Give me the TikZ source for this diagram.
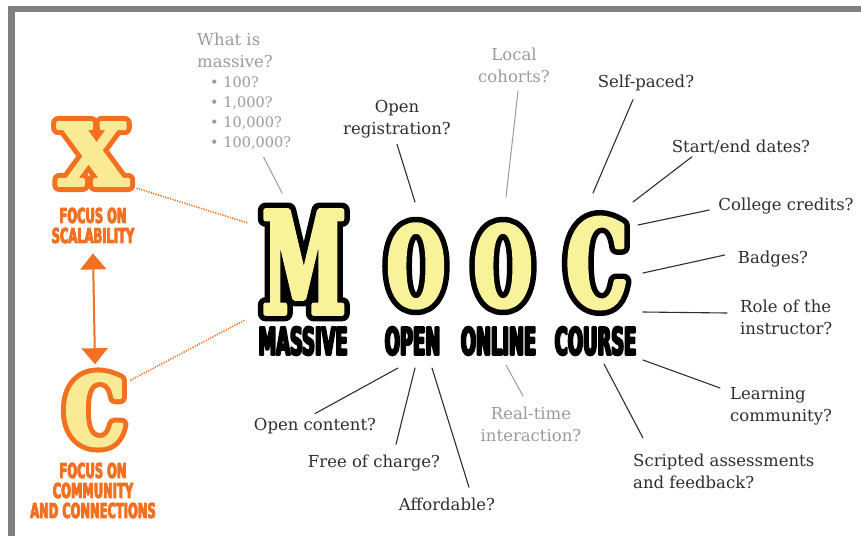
\documentclass[tikz,border=0pt]{standalone}
\usepackage{fontspec}
\setmainfont{DejaVu Serif}
\newfontfamily\heavyfont{DejaVu Sans}
\newfontfamily\letterfont{DejaVu Serif}
\usetikzlibrary{arrows.meta}
\definecolor{ink}{HTML}{2E2E2E}
\definecolor{fog}{HTML}{9B9B9B}
\definecolor{flame}{HTML}{F37021}
\definecolor{lemon}{HTML}{F8F39B}
\definecolor{pale}{HTML}{FBEA95}
\definecolor{frame}{HTML}{808080}
% glyphs filled and stroked with a pen of width #1
\newcommand\inked[2]{\special{pdf:literal direct 2 Tr #1 w}#2\special{pdf:literal direct 0 Tr}}
\begin{document}
\begin{tikzpicture}[x=1pt, y=-1pt, line cap=round, line join=round,
  q/.style={font=\fontsize{16.5}{22}\selectfont, text=ink, inner sep=1pt},
  qg/.style={q, text=fog},
  lnk/.style={draw=ink, line width=1.1pt},
  lnkg/.style={draw=fog, line width=1pt},
  big/.style 2 args={font=\letterfont\bfseries\addfontfeatures{FakeStretch=#2}\fontsize{#1}{#1}\selectfont,
    inner sep=0pt},
  tag/.style={font=\heavyfont\bfseries\addfontfeatures{FakeStretch=.47}\fontsize{38}{38}\selectfont,
    inner sep=0pt},
  otag/.style={font=\heavyfont\bfseries\addfontfeatures{FakeStretch=.56}\fontsize{20.5}{20}\selectfont,
    align=center, text=flame, inner sep=0pt},
  dots/.style={flame, line width=1.6pt, dash pattern=on 1.2pt off 1.3pt, line cap=butt}]
\useasboundingbox (0,0) rectangle (861,536);
\fill[frame] (8,6) rectangle (861,12);
\fill[frame] (8,6) rectangle (15,536);

% the four letters: a wide black pen under a thin yellow one
\node[big={141}{.53}, text=black] (M-rim) at (304,262) {\inked{16}{M}};
\node[big={141}{.53}, text=lemon] (M) at (304,262) {\inked{5}{M}};
\node[big={109}{.6}, text=black] (O-rim) at (416,266) {\inked{16}{O}};
\node[big={109}{.6}, text=lemon] (O) at (416,266) {\inked{5}{O}};
\node[big={109}{.6}, text=black] (N-rim) at (503,266) {\inked{16}{O}};
\node[big={109}{.6}, text=lemon] (N) at (503,266) {\inked{5}{O}};
\node[big={119}{.64}, text=black] (C-rim) at (597,263) {\inked{16}{C}};
\node[big={119}{.64}, text=lemon] (C) at (597,263) {\inked{5}{C}};
\node[tag] (massive) at (303,341) {\inked{2}{MASSIVE}};
\node[tag] (open) at (412.5,341) {\inked{2}{OPEN}};
\node[tag] (online) at (498.5,341) {\inked{2}{ONLINE}};
\node[tag] (course) at (595.5,341) {\inked{2}{COURSE}};

% X and C
\node[big={85}{1.07}, text=flame] (xs-rim) at (93,154) {\inked{14}{X}};
\node[big={85}{1.07}, text=pale] (xs) at (93,154) {\inked{4}{X}};
\node[big={94}{.81}, text=flame] (cs-rim) at (95,410) {\inked{14}{C}};
\node[big={94}{.81}, text=pale] (cs) at (95,410) {\inked{4}{C}};
\node[otag] (scal) at (93,225.5) {\inked{.9}{FOCUS ON}\\\inked{.9}{SCALABILITY}};
\node[otag] (comm) at (93,490.5)
  {\inked{.9}{FOCUS ON}\\\inked{.9}{COMMUNITY}\\\inked{.9}{AND CONNECTIONS}};

% questions
\node[qg, anchor=north west, align=left] (whatis) at (196,32) {What is\\massive?};
\node[qg, anchor=north west, align=left, font=\fontsize{14.5}{20}\selectfont] (sizes) at (209,76)
  {• 100?\\• 1,000?\\• 10,000?\\• 100,000?};
\node[q, anchor=north, align=center] (openreg) at (397,99) {Open\\registration?};
\node[qg, anchor=north, align=center] (localco) at (514,47) {Local\\cohorts?};
\node[q, anchor=base] (selfpaced) at (646,87) {Self-paced?};
\node[q, anchor=base] (startend) at (741,152) {Start/end dates?};
\node[q, anchor=base] (credits) at (786,210) {College credits?};
\node[q, anchor=base] (badges) at (773,263) {Badges?};
\node[q, anchor=north west, align=left] (role) at (739,299) {Role of the\\instructor?};
\node[q, anchor=north west, align=left] (learning) at (729,386) {Learning\\community?};
\node[q, anchor=north west, align=left] (scripted) at (632,453) {Scripted assessments\\and feedback?};
\node[qg, anchor=north, align=center] (realtime) at (531,406) {Real-time\\interaction?};
\node[q, anchor=base] (affordable) at (447,510) {Affordable?};
\node[q, anchor=base] (freecharge) at (374,467) {Free of charge?};
\node[q, anchor=base] (opencontent) at (315,430) {Open content?};

\coordinate (m-a) at (282,193);
\coordinate (m-b) at (248,223);
\coordinate (m-c) at (245,320);
\coordinate (o-a) at (415,202);
\coordinate (o-b) at (398,368);
\coordinate (o-c) at (415,368);
\coordinate (o-d) at (432,368);
\coordinate (n-a) at (506,197);
\coordinate (n-b) at (506,365);
\coordinate (c-a) at (593,193);
\coordinate (c-b) at (633,202);
\coordinate (c-c) at (638,225);
\coordinate (c-d) at (643,273);
\coordinate (c-e) at (643,312);
\coordinate (c-f) at (643,360);
\coordinate (c-g) at (604,364);

\draw[lnkg] ([xshift=13pt,yshift=-6pt]sizes.south) -- (m-a);
\draw[lnk] ([yshift=-5pt]openreg.south) -- (o-a);
\draw[lnkg] ([xshift=4pt,yshift=-7pt]localco.south) -- (n-a);
\draw[lnk] ([xshift=-13pt,yshift=-8pt]selfpaced.south) -- (c-a);
\draw[lnk] ([xshift=-49pt,yshift=-2pt]startend.south) -- (c-b);
\draw[lnk] ([xshift=-8pt]credits.base west) -- (c-c);
\draw[lnk] ([xshift=-12pt,yshift=8pt]badges.base west) -- (c-d);
\draw[lnk] ([xshift=-12pt,yshift=-14pt]role.north west) -- (c-e);
\draw[lnk] ([xshift=-9pt,yshift=-2pt]learning.north west) -- (c-f);
\draw[lnk] ([xshift=11pt,yshift=15pt]scripted.north west) -- (c-g);
\draw[lnkg] ([xshift=-8pt,yshift=10pt]realtime.north) -- (n-b);
\draw[lnk] ([xshift=22pt,yshift=9pt]affordable.north) -- (o-d);
\draw[lnk] ([xshift=22pt,yshift=9pt]freecharge.north) -- (o-c);
\draw[lnk] ([yshift=3pt]opencontent.north) -- (o-b);

\draw[dots] ([xshift=8pt,yshift=-3pt]xs.south east) -- (m-b);
\draw[dots] ([xshift=5pt,yshift=-6pt]cs.north east) -- (m-c);
\draw[flame, line width=2pt, {Triangle[width=26pt,length=16pt]}-{Triangle[width=26pt,length=16pt]}]
  ([yshift=-10pt]scal.south) -- ([yshift=10pt]cs.north);
\end{tikzpicture}
\end{document}
